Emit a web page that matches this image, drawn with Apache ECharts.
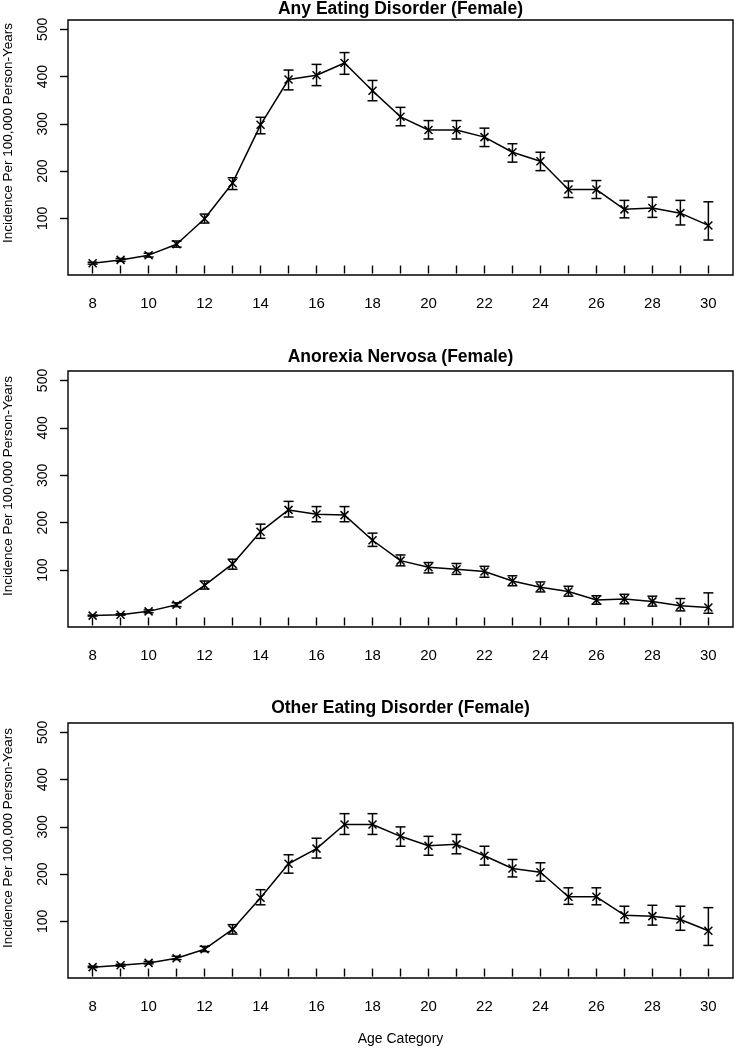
<!DOCTYPE html>
<html>
<head>
<meta charset="utf-8">
<script src="https://cdn.jsdelivr.net/npm/echarts@6/dist/echarts.min.js"></script>
<style>
    html, body { margin: 0; padding: 0; background: #fff; }
    #chart { width: 734px; height: 1050px; }
</style>
</head>
<body>
<div id="chart"></div>
<script>
const ages = [8, 9, 10, 11, 12, 13, 14, 15, 16, 17, 18, 19, 20, 21, 22, 23, 24, 25, 26, 27, 28, 29, 30]
const xTicks = ages
const xLabels = [8, 10, 12, 14, 16, 18, 20, 22, 24, 26, 28, 30]
const yTicks = [100, 200, 300, 400, 500]

// Any eating disorder
const anyRate = [5, 12, 22, 45, 99, 175, 298, 394, 403, 429, 370, 315, 287, 287, 272, 240, 221, 161, 161, 119, 122, 111, 85]
const anyLow  = [3, 9, 18, 39, 90, 161, 279, 372, 381, 405, 349, 296, 268, 268, 252, 219, 201, 144, 142, 101, 102, 86, 54]
const anyHigh = [7, 15, 26, 52, 109, 186, 314, 414, 426, 451, 392, 335, 307, 307, 291, 258, 240, 179, 180, 138, 145, 138, 135]

// Anorexia nervosa
const anRate = [4, 6, 13, 27, 68, 113, 181, 227, 218, 216, 163, 120, 106, 102, 97, 77, 64, 55, 37, 39, 34, 25, 21]
const anLow  = [3, 5, 10, 23, 60, 102, 167, 212, 202, 202, 150, 109, 94, 91, 85, 67, 54, 45, 28, 29, 24, 14, 9]
const anHigh = [5, 8, 16, 31, 77, 123, 197, 245, 234, 234, 178, 132, 116, 114, 108, 88, 75, 66, 46, 49, 45, 40, 52]

// Other eating disorder
const otherRate = [3, 7, 12, 22, 41, 83, 150, 222, 254, 305, 305, 280, 260, 263, 239, 212, 204, 152, 152, 113, 111, 104, 80]
const otherLow  = [2, 5, 10, 19, 36, 73, 135, 202, 234, 284, 284, 259, 240, 243, 219, 194, 185, 136, 135, 97, 92, 81, 49]
const otherHigh = [5, 9, 15, 26, 47, 93, 167, 241, 276, 328, 328, 300, 280, 284, 259, 231, 224, 171, 171, 132, 134, 132, 129]

const titles = ['Any Eating Disorder (Female)', 'Anorexia Nervosa (Female)', 'Other Eating Disorder (Female)']
const rates = [anyRate, anRate, otherRate]
const lows = [anyLow, anLow, otherLow]
const highs = [anyHigh, anHigh, otherHigh]

const FONT = 'Liberation Sans, Arial, Helvetica, sans-serif'
const panels = [
    { top: 20, height: 255, titleY: 9, ylabY: 133 },
    { top: 371, height: 256, titleY: 357, ylabY: 486 },
    { top: 723, height: 255, titleY: 708, ylabY: 838 }
]

const stroke = { stroke: '#000', lineWidth: 1.5 }

function renderError(params, api) {
    const lo = api.coord([api.value(0), api.value(1)])
    const hi = api.coord([api.value(0), api.value(2)])
    const w = 5
    return {
        type: 'group',
        children: [
            { type: 'line', shape: { x1: lo[0], y1: lo[1], x2: hi[0], y2: hi[1] }, style: stroke },
            { type: 'line', shape: { x1: lo[0] - w, y1: lo[1], x2: lo[0] + w, y2: lo[1] }, style: stroke },
            { type: 'line', shape: { x1: hi[0] - w, y1: hi[1], x2: hi[0] + w, y2: hi[1] }, style: stroke }
        ]
    }
}

function renderCross(params, api) {
    const p = api.coord([api.value(0), api.value(1)])
    const r = 4
    return {
        type: 'group',
        children: [
            { type: 'line', shape: { x1: p[0] - r, y1: p[1] - r, x2: p[0] + r, y2: p[1] + r }, style: stroke },
            { type: 'line', shape: { x1: p[0] - r, y1: p[1] + r, x2: p[0] + r, y2: p[1] - r }, style: stroke }
        ]
    }
}

const grid = [], xAxis = [], yAxis = [], series = [], graphic = []

panels.forEach((pn, i) => {
    grid.push({
        left: 68, right: 1, top: pn.top, height: pn.height,
        show: true, borderColor: '#000', borderWidth: 1.4, backgroundColor: 'transparent'
    })
    xAxis.push({
        type: 'value', gridIndex: i, min: 7.12, max: 30.88,
        axisLine: { show: false },
        splitLine: { show: false },
        axisTick: { show: true, length: 8, lineStyle: { color: '#000', width: 1.4 }, customValues: xTicks },
        axisLabel: { customValues: xLabels, margin: 21, fontSize: 15, color: '#000', fontFamily: FONT }
    })
    yAxis.push({
        type: 'value', gridIndex: i, min: -20, max: 520,
        axisLine: { show: false },
        splitLine: { show: false },
        axisTick: { show: true, length: 8, lineStyle: { color: '#000', width: 1.4 }, customValues: yTicks },
        axisLabel: { customValues: yTicks, rotate: 90, margin: 18, fontSize: 14, color: '#000', fontFamily: FONT }
    })
    series.push({
        type: 'line', xAxisIndex: i, yAxisIndex: i,
        data: ages.map((a, k) => [a, rates[i][k]]),
        symbol: 'none', lineStyle: { color: '#000', width: 1.5 }, silent: true, animation: false
    })
    series.push({
        type: 'custom', xAxisIndex: i, yAxisIndex: i,
        data: ages.map((a, k) => [a, lows[i][k], highs[i][k]]),
        renderItem: renderError, silent: true, animation: false
    })
    series.push({
        type: 'custom', xAxisIndex: i, yAxisIndex: i,
        data: ages.map((a, k) => [a, rates[i][k]]),
        renderItem: renderCross, silent: true, animation: false
    })
    graphic.push({
        type: 'text', x: 400.5, y: pn.titleY,
        style: { text: titles[i], fill: '#000', font: 'bold 17.5px ' + FONT, align: 'center', verticalAlign: 'middle' }
    })
    graphic.push({
        type: 'text', x: 8, y: pn.ylabY, rotation: Math.PI / 2,
        style: { text: 'Incidence Per 100,000 Person-Years', fill: '#000', font: '13.5px ' + FONT, align: 'center', verticalAlign: 'middle' }
    })
})

graphic.push({
    type: 'text', x: 400.5, y: 1039,
    style: { text: 'Age Category', fill: '#000', font: '14px ' + FONT, align: 'center', verticalAlign: 'middle' }
})

const chart = echarts.init(document.getElementById('chart'))
chart.setOption({
    animation: false,
    backgroundColor: '#fff',
    grid, xAxis, yAxis, series, graphic
})
</script>
</body>
</html>
